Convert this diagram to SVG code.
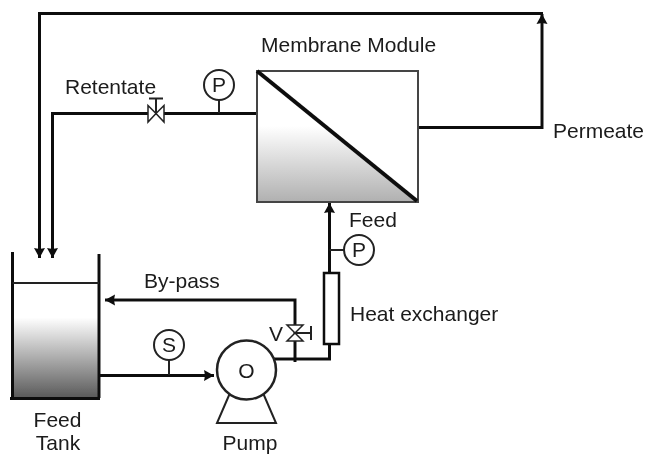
<svg xmlns="http://www.w3.org/2000/svg" width="647" height="455" viewBox="0 0 647 455">
<style>
text{font-family:"Liberation Sans",Arial,sans-serif;font-size:21px;fill:#1a1a1a}
svg>g{filter:url(#soft)}
.l{fill:none;stroke:#111;stroke-width:3}
.t{fill:none;stroke:#222;stroke-width:2}
.c{fill:#fff;stroke:#222;stroke-width:2}
.v{fill:#fff;stroke:#222;stroke-width:1.5}
.m{text-anchor:middle}
</style>
<defs>
<filter id="soft" filterUnits="userSpaceOnUse" x="0" y="0" width="647" height="455"><feGaussianBlur stdDeviation="0.45"/></filter>
<linearGradient id="tg" gradientUnits="userSpaceOnUse" x1="0" y1="283" x2="0" y2="398"><stop offset="0.3" stop-color="#fff"/><stop offset="1" stop-color="#5a5a5a"/></linearGradient>
<linearGradient id="mg" gradientUnits="userSpaceOnUse" x1="0" y1="71" x2="0" y2="202"><stop offset="0.42" stop-color="#fff"/><stop offset="1" stop-color="#b0b0b0"/></linearGradient>
<marker id="a" markerUnits="userSpaceOnUse" markerWidth="12" markerHeight="12" refX="10" refY="6" orient="auto"><path d="M0 0.500L10 6L0 11.500L1 6Z" fill="#111"/></marker>
</defs>
<g id="connectors">
<path class="l" d="M543 13.500H39.500V258" marker-end="url(#a)"/>
<path class="l" d="M257 113.500H52.500V258" marker-end="url(#a)"/>
<path class="l" d="M418 127.500H542V14" marker-end="url(#a)"/>
<path class="l" d="M329.500 344V359H274"/>
<path class="l" d="M329.500 272V203" marker-end="url(#a)"/>
<path class="t" d="M329.500 250H345"/>
<path class="l" d="M295 362V300H105" marker-end="url(#a)"/>
<path class="l" d="M99 375.500H214" marker-end="url(#a)"/>
<path class="t" d="M169 359V375"/>
<path class="t" d="M219 99V113"/>
</g>
<g id="feed-tank">
<rect x="12.500" y="283" width="86.500" height="115" fill="url(#tg)"/>
<path class="l" d="M12.500 252V398M99 254V398M10 398.500H100"/>
<path class="t" d="M12.500 283H99"/>
<text class="m" x="57.500" y="427">Feed</text>
<text class="m" x="58" y="450">Tank</text>
</g>
<g id="membrane-module">
<path d="M257 71L417 202H257Z" fill="url(#mg)"/>
<rect x="257" y="71" width="161" height="131" fill="none" stroke="#444" stroke-width="2"/>
<path d="M257 71L417 201" fill="none" stroke="#111" stroke-width="4"/>
<text x="261" y="52">Membrane Module</text>
</g>
<g id="retentate-valve">
<path class="v" d="M148 105.500L156 113.500L148 122ZM164 105.500L156 113.500L164 122Z"/>
<path class="t" d="M156 113V98.500M149 98.500H163"/>
<text x="65" y="94">Retentate</text>
</g>
<g id="pressure-retentate"><circle class="c" cx="219" cy="85" r="15"/><text class="m" x="219" y="92">P</text></g>
<g id="permeate-label"><text x="553" y="138">Permeate</text></g>
<g id="feed-label"><text x="349" y="227">Feed</text></g>
<g id="pressure-feed"><circle class="c" cx="359" cy="250" r="15"/><text class="m" x="359" y="257">P</text></g>
<g id="heat-exchanger">
<rect x="324" y="273" width="15" height="71" fill="#fff" stroke="#111" stroke-width="2.500"/>
<text x="350" y="321">Heat exchanger</text>
</g>
<g id="bypass-valve">
<path class="v" d="M287 325L295 333L303 325ZM287 341L295 333L303 341Z"/>
<path class="t" d="M295 333H311M311 326V340"/>
<text x="269" y="341">V</text>
<text x="144" y="288">By-pass</text>
</g>
<g id="sensor"><circle class="c" cx="169" cy="345" r="15"/><text class="m" x="169" y="352">S</text></g>
<g id="pump">
<path d="M230 393L217 423H276L263 393" fill="#fff" stroke="#222" stroke-width="2"/>
<circle cx="246.500" cy="370" r="29.500" fill="#fff" stroke="#222" stroke-width="2.500"/>
<text class="m" x="246.500" y="378">O</text>
<text class="m" x="250" y="450">Pump</text>
</g>
</svg>
